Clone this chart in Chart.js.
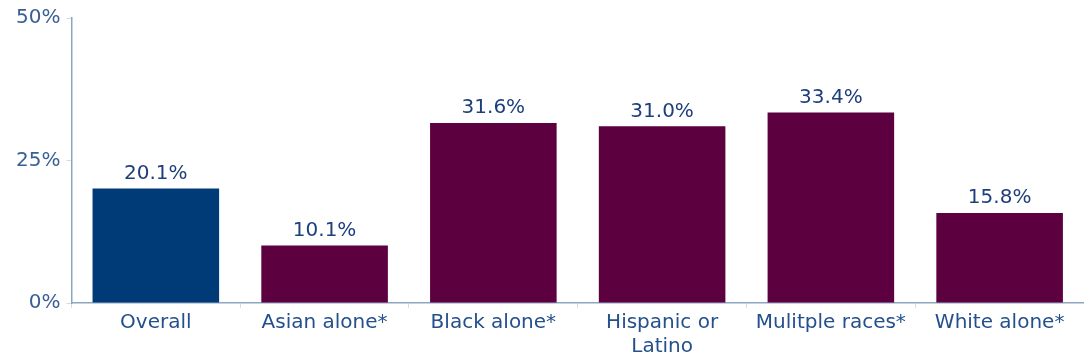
<!DOCTYPE html>
<html>
<head>
<meta charset="utf-8">
<script src="https://cdn.jsdelivr.net/npm/chart.js@4"></script>
<style>
  html, body { margin: 0; padding: 0; background: #fff; }
  #wrap { width: 1084px; height: 362px; }
</style>
</head>
<body>
<div id="wrap"><canvas id="chart"></canvas></div>
<script>
const categories = ["Overall", "Asian alone*", "Black alone*", ["Hispanic or", "Latino"], "Mulitple races*", "White alone*"];
const values = [20.1, 10.1, 31.6, 31.0, 33.4, 15.8];
const barColors = ["#003b78", "#5c0040", "#5c0040", "#5c0040", "#5c0040", "#5c0040"];
const yTicks = [0, 25, 50];

const textColor = "#24508c";
const font = { family: "DejaVu Sans", size: 20 };

const valueLabels = {
  id: "valueLabels",
  afterDatasetsDraw(chart) {
    const ctx = chart.ctx;
    const meta = chart.getDatasetMeta(0);
    ctx.save();
    ctx.font = font.size + "px " + font.family;
    ctx.fillStyle = "#1f3f7c";
    ctx.textAlign = "center";
    ctx.textBaseline = "bottom";
    meta.data.forEach(function (bar, i) {
      ctx.fillText(values[i].toFixed(1) + "%", bar.x, bar.y - 5);
    });
    ctx.restore();
  }
};

new Chart(document.getElementById("chart"), {
  type: "bar",
  data: {
    labels: categories,
    datasets: [{
      data: values,
      backgroundColor: barColors,
      categoryPercentage: 0.75,
      barPercentage: 1
    }]
  },
  options: {
    responsive: true,
    maintainAspectRatio: false,
    animation: false,
    layout: { padding: { left: 10, right: 0, top: 6, bottom: 0 } },
    plugins: { legend: { display: false }, tooltip: { enabled: false } },
    scales: {
      x: {
        grid: { offset: true, drawOnChartArea: false, tickLength: 5, color: "#d8dde4" },
        border: { color: "#8ea5c2", width: 1.5 },
        ticks: { color: textColor, font: font, padding: 3, maxRotation: 0, autoSkip: false }
      },
      y: {
        min: 0,
        max: 50,
        afterBuildTicks(axis) { axis.ticks = yTicks.map(v => ({ value: v })); },
        grid: { drawOnChartArea: false, tickLength: 5, color: "#d8dde4" },
        border: { color: "#8ea5c2", width: 1.5 },
        ticks: { color: "#3a5f94", font: font, padding: 6, callback: v => v + "%" }
      }
    }
  },
  plugins: [valueLabels]
});
</script>
</body>
</html>
